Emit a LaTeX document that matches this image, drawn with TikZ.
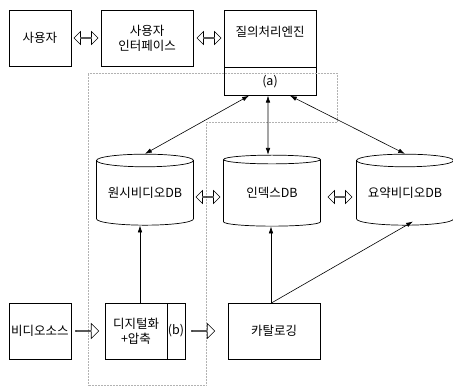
\documentclass[tikz,border=0pt]{standalone}
\usepackage{fontspec}
\newfontfamily\krfont{Noto Sans CJK KR}
\usetikzlibrary{positioning,arrows.meta,shapes.geometric,shapes.arrows}

\begin{document}
\begin{tikzpicture}[x=1pt,y=-1pt,
  box/.style={draw,line width=0.7pt,align=center,font=\krfont\fontsize{12.5}{15}\selectfont,inner sep=0pt},
  db/.style={draw,line width=0.7pt,cylinder,shape border rotate=90,aspect=0.17,
    minimum width=97pt,minimum height=71pt,inner sep=0pt,font=\krfont\fontsize{12.5}{15}\selectfont},
  dbl/.style={draw,line width=0.6pt,double arrow,double arrow head extend=3pt,
    minimum height=24pt,minimum width=13pt,inner sep=0pt},
  sgl/.style={draw,line width=0.6pt,single arrow,single arrow head extend=3.5pt,
    minimum height=23pt,minimum width=15pt,inner sep=0pt},
  arr/.style={{Latex[length=2.4mm,width=1.6mm]}-{Latex[length=2.4mm,width=1.6mm]},line width=0.6pt},
  one/.style={-{Latex[length=2.4mm,width=1.6mm]},line width=0.6pt},
  area/.style={gray!60,densely dotted,line width=0.5pt}]
\useasboundingbox (0,0) rectangle (453,388);
% top row
\node[box,minimum width=62pt,minimum height=56pt] (user) at (40,38) {사용자};
\node[box,minimum width=92pt,minimum height=56pt] (ui) at (147,38) {사용자\\인터페이스};
\node[box,minimum width=92pt,minimum height=57pt,anchor=north,text depth=16pt] (qe) at (270,10) {질의처리엔진};
\node[box,minimum width=92pt,minimum height=28pt,anchor=north] (qa) at ([yshift=0.7pt]qe.south) {(a)};
\node[dbl] (d1) at (86,38) {};
\node[dbl] (d2) at (209,38) {};
% dotted region
\draw[area] (88,73) -- (337,73) -- (337,122) -- (206,122) -- (206,385) -- (88,385) -- cycle;
% databases
\node[db] (raw) at (145,193) {\raisebox{-6pt}{원시비디오DB}};
\node[db] (idx) at (272,193) {\raisebox{-6pt}{인덱스DB}};
\node[db] (sum) at (405,193) {\raisebox{-6pt}{요약비디오DB}};
\node[dbl] (d3) at (208,197) {};
\node[dbl] (d4) at (340,197) {};
\draw[arr] ([xshift=-21pt]qa.south) -- (raw.north);
\draw[arr] ([xshift=-2pt]qa.south) -- ([xshift=-4pt]idx.north);
\draw[arr] ([xshift=20pt]qa.south) -- (sum.north);
% bottom row
\node[box,minimum width=62pt,minimum height=56pt] (src) at (40,331) {비디오소스};
\node[box,minimum width=62pt,minimum height=56pt] (dig) at (136,331) {디지털화\\+압축};
\node[box,minimum width=18pt,minimum height=56pt,anchor=west] (dgb) at ([xshift=-0.7pt]dig.east) {(b)};
\node[box,minimum width=92pt,minimum height=56pt] (cat) at (274,331) {카탈로깅};
\node[sgl] (s1) at (87,331) {};
\node[sgl] (s2) at (203,331) {};
\draw[one] ([xshift=4pt]dig.north) -- ([xshift=4pt]dig.north |- raw.south);
\draw[one] ([xshift=-3pt]cat.north) -- ([xshift=-3pt]cat.north |- idx.south);
\draw[one] ([xshift=-2pt]cat.north) -- ([xshift=8pt,yshift=4pt]sum.south);
\end{tikzpicture}
\end{document}
